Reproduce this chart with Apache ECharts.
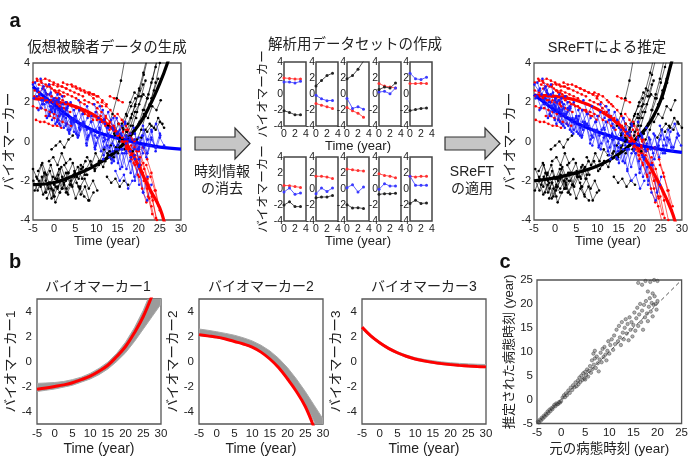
<!DOCTYPE html>
<html>
<head>
<meta charset="utf-8">
<script src="https://cdn.jsdelivr.net/npm/echarts@6/dist/echarts.min.js"></script>
<style>
html, body { margin: 0; padding: 0; background: #fff; }
#c { width: 691px; height: 457px; }
</style>
</head>
<body>
<div id="c"></div>
<script>
const FONT = '"Liberation Sans", "Noto Sans CJK JP", sans-serif'
const TXT = '#222'

// ---- panel a: simulated subjects [start year, values at 1-year steps]
const simBlack = [
  [-5, [-1.4, -1.9, -1.2, -2.0, -1.5, -2.2, -1.7, -2.4]],
  [-4.6, [-2.5, -2.0, -2.7, -2.2, -2.9, -2.3, -2.6]],
  [-4.2, [-1.8, -2.3, -1.6, -2.1, -2.5, -1.9, -2.4, -2.0]],
  [-3.3, [-2.2, -1.6, -2.4, -1.8, -2.0, -1.3, -1.9]],
  [-2.1, [-2.6, -2.1, -2.8, -2.3, -1.8, -2.4, -2.0, -1.6]],
  [-1.2, [-1.0, -0.8, -1.2, -0.6, -1.1, -0.9]],
  [0.3, [-1.9, -1.4, -2.1, -1.6, -2.3, -1.8, -1.2, -1.7]],
  [-0.6, [-0.4, -0.2, 0.0, -0.3, 0.1, 0.3]],
  [1.8, [-2.0, -1.6, -2.2, -1.5, -1.9, -1.3, -1.7]],
  [3.1, [-2.6, -2.2, -2.9, -2.4, -2.8, -3.0]],
  [4.6, [-1.7, -1.3, -1.9, -1.4, -1.0, -1.5, -1.2]],
  [6.2, [-2.3, -1.9, -2.4, -2.0, -2.5]],
  [7.8, [-0.8, -1.2, -0.6, -1.0, -0.4, -0.7]],
  [9.6, [-1.4, -1.0, -1.3, -0.6, -0.9, -0.3, 0.2]],
  [12.5, [-1.8, -2.1, -1.9, -2.3, -2.0, -2.2]],
  [12.1, [-1.0, -0.5, -0.8, -0.2, 0.1, 0.5]],
  [12.8, [0.8, 1.4, 2.2, 3.1, 4.3]],
  [13.4, [-0.2, 0.3, 0.0, 0.6, 0.9, 1.4, 1.2]],
  [14.2, [0.4, 0.9, 0.7, 1.3, 1.8, 2.2]],
  [15.1, [-0.6, -0.2, 0.3, 0.8, 1.5, 1.9, 2.4, 2.2]],
  [16.0, [0.9, 1.4, 2.0, 2.5, 2.3, 2.9]],
  [17.2, [0.5, 1.2, 1.9, 2.6, 3.4, 4.3]],
  [18.1, [1.2, 1.8, 2.7, 3.5, 4.4]],
  [19.0, [0.4, 0.9, 1.6, 2.2, 3.0, 3.8, 4.6]],
  [20.2, [1.0, 1.4, 1.2, 1.8, 1.6, 2.1]],
  [20.6, [0.2, 0.6, 0.9, 0.7, 1.2, 0.9]],
  [21.3, [1.6, 2.4, 3.2, 4.2, 5.0]],
  [22.0, [0.5, 0.8, 0.6, 1.0, 0.7]],
  [-4.9, [-2.0, -2.5, -1.8, -2.6, -2.1, -2.8]],
  [-3.8, [-1.5, -1.1, -1.7, -1.2, -1.9, -1.4]],
  [-1.7, [-2.9, -2.4, -3.1, -2.6, -2.2, -2.7]],
  [0.8, [-2.4, -2.0, -2.6, -2.2, -1.8, -2.3]],
  [2.4, [-1.2, -1.6, -1.1, -1.8, -1.4, -1.0]],
  [5.3, [-2.1, -2.7, -2.3, -3.0, -2.6]],
  [16.6, [-0.4, 0.2, 0.8, 1.5, 2.3, 3.1]],
  [18.6, [-0.5, 0.1, 0.6, 1.3, 1.9, 2.6, 3.2]],
  [23.0, [2.2, 3.0, 4.0, 5.0]]
]
const simRed = [
  [-5, [3.0, 3.1, 3.0, 2.9, 2.8, 2.6, 2.5, 2.3]],
  [-4.6, [2.6, 2.5, 2.7, 2.4, 2.3, 2.2, 2.0]],
  [-4.1, [3.2, 3.1, 3.2, 3.1, 3.0, 2.9, 2.8, 2.7]],
  [-5, [1.8, 1.7, 1.7, 1.6, 1.5, 1.4, 1.3]],
  [-4.3, [1.1, 1.0, 1.0, 0.9, 0.8, 0.8, 0.7]],
  [-3.2, [2.2, 2.1, 2.0, 2.0, 1.9, 1.7, 1.6, 1.5]],
  [-1.2, [2.9, 2.9, 2.8, 2.8, 2.7, 2.6, 2.5, 2.4, 2.3]],
  [0.2, [2.6, 2.6, 2.5, 2.4, 2.3, 2.2, 2.0, 1.9]],
  [2.1, [3.0, 2.9, 2.9, 2.8, 2.7, 2.6, 2.5, 2.4, 2.3]],
  [4.3, [2.8, 2.7, 2.6, 2.5, 2.4, 2.2, 2.0, 1.8]],
  [8.4, [2.5, 2.4, 2.3, 2.1, 1.9]],
  [13.2, [2.3, 2.2, 2.1, 2.0]],
  [6.1, [1.6, 1.5, 1.4, 1.3, 1.1, 1.0, 0.8, 0.6]],
  [10.0, [1.5, 1.3, 1.1, 0.9, 0.6, 0.3, 0.0, -0.3]],
  [12.2, [1.2, 1.0, 0.7, 0.4, 0.0, -0.4, -0.9]],
  [14.1, [0.8, 0.5, 0.2, -0.2, -0.7, -1.2, -1.8]],
  [15.8, [0.3, 0.0, -0.5, -1.1, -1.7, -2.4, -3.1]],
  [17.0, [0.6, 0.2, -0.3, -0.9, -1.6, -2.4, -3.3, -4.2]],
  [18.2, [-0.2, -0.7, -1.3, -2.0, -2.8, -3.7]],
  [19.1, [0.1, -0.4, -1.1, -1.9, -2.8, -3.9]],
  [20.3, [-0.8, -1.4, -2.2, -3.0, -4.0]],
  [15.0, [1.4, 1.1, 0.8, 0.4, 0.0, -0.5]],
  [21.0, [-0.3, -0.9, -1.6, -2.5, -3.5]],
  [21.8, [-1.2, -1.8, -2.5, -3.3]],
  [-4.7, [2.3, 2.3, 2.2, 2.1, 2.1, 2.0, 1.8, 1.7]],
  [-3.6, [2.9, 2.8, 2.8, 2.7, 2.5, 2.4, 2.3]],
  [-2.0, [1.3, 1.3, 1.2, 1.1, 1.0, 0.9, 0.8]],
  [1.0, [2.2, 2.1, 2.0, 1.9, 1.8, 1.6, 1.5, 1.3]],
  [3.2, [1.9, 1.8, 1.7, 1.6, 1.4, 1.3, 1.1]],
  [7.2, [2.1, 2.0, 1.9, 1.7, 1.5, 1.3, 1.0, 0.7]],
  [11.3, [2.0, 1.8, 1.6, 1.3, 0.9, 0.5, 0.0]],
  [16.5, [1.0, 0.6, 0.1, -0.5, -1.2, -2.0, -2.9]]
]
const simBlue = [
  [-5, [2.9, 2.6, 2.1, 2.5, 1.8, 2.2, 1.6, 1.9]],
  [-4.5, [3.0, 2.4, 2.8, 2.0, 1.5, 2.1, 1.4]],
  [-4.1, [2.3, 1.7, 2.2, 1.4, 1.9, 1.1, 1.6, 0.9]],
  [-3.2, [3.2, 2.6, 2.9, 2.1, 2.4, 1.7, 2.0]],
  [-2.3, [1.9, 1.3, 1.7, 1.0, 1.4, 0.8, 1.2, 0.5]],
  [-1.1, [2.4, 1.8, 2.1, 1.4, 1.7, 1.0, 1.3, 0.7, 1.0]],
  [0.2, [1.5, 0.9, 1.3, 0.6, 1.1, 0.4, 0.8]],
  [1.1, [2.0, 1.4, 1.7, 0.9, 1.3, 0.6, 0.9, 0.3]],
  [2.8, [1.2, 0.6, 1.0, 0.3, 0.8, 0.1, 0.5, -0.2]],
  [4.7, [1.6, 1.0, 1.4, 0.6, 1.0, 0.3, 0.7, 0.0, 0.4]],
  [6.9, [0.8, 0.2, 0.6, -0.1, 0.4, -0.3, 0.2, -0.5]],
  [8.8, [1.3, 0.6, 1.0, 0.2, 0.7, -0.1, 0.4, -0.4]],
  [10.1, [0.2, -0.5, 0.1, -0.8, -0.2, -1.1, -0.4]],
  [12.0, [0.9, 0.2, 0.6, -0.2, 0.3, -0.5, 0.1, -0.7]],
  [13.1, [-0.3, -1.0, -0.4, -1.3, -0.6, -1.6, -0.9, -2.2]],
  [14.0, [1.2, 0.4, 0.8, -0.1, 0.4, -0.4, 0.2, -0.6]],
  [15.2, [0.5, -0.4, 0.2, -0.8, -0.1, -1.2, -0.3, 0.1]],
  [16.1, [-0.6, -1.4, -0.8, -2.0, -1.2, -2.6, -1.8]],
  [17.0, [0.3, -0.5, 0.1, -0.9, -0.2, -0.6, 0.2, -0.3]],
  [18.0, [-1.0, -1.8, -1.3, -2.6, -3.0, -2.2]],
  [19.1, [0.4, -0.3, 0.6, -0.2, 0.5, 0.9, 0.3]],
  [20.0, [-0.4, 0.3, -0.6, 0.1, -0.3, 0.4]],
  [10.8, [1.8, 1.1, 1.5, 0.7, 1.2, 0.4, 0.9]],
  [14.5, [-1.5, -2.0, -1.7, -2.4, -2.0]],
  [-4.8, [2.2, 2.7, 1.9, 2.4, 1.6, 2.0, 1.3]],
  [-3.7, [1.6, 2.1, 1.2, 1.8, 0.9, 1.5, 0.7]],
  [-2.8, [2.7, 2.0, 2.5, 1.6, 2.2, 1.3, 1.8]],
  [-0.5, [1.1, 1.7, 0.8, 1.5, 0.5, 1.2, 0.3, 0.9]],
  [1.9, [2.3, 1.6, 2.0, 1.1, 1.6, 0.8, 1.2]],
  [3.6, [0.4, 1.0, 0.2, 0.9, -0.1, 0.6, -0.3]],
  [5.8, [2.1, 1.4, 1.8, 1.0, 1.5, 0.6, 1.1, 0.3]],
  [7.7, [-0.2, 0.5, -0.4, 0.3, -0.7, 0.1, -0.9]],
  [9.5, [1.9, 1.2, 1.6, 0.7, 1.1, 0.2, 0.6]],
  [11.6, [-0.9, -0.2, -1.1, -0.4, -1.4, -0.6]],
  [16.8, [1.0, 0.2, 0.7, -0.4, 0.3, -0.8, -0.2]],
  [21.0, [0.8, 0.1, 0.6, -0.5, 0.2, -0.2]]
]
// SReFT-estimated time offsets per subject (years)
const shiftBlack = [0.3, -0.2, 0.4, 0, -0.3, 0.5, 0.2, -0.4, 0.3, -0.1, 0.6, 0.2, -0.3, 1.0, 1.4, 0.8, 1.8, 1.2, 1.5, 1.6, 1.9, 1.7, 1.4, 2.0, 3.2, 3.6, 1.5, 4.0,
  0.2, -0.1, 0.3, 0.4, 0.5, 0.6, 1.7, 1.8, 2.5]
const shiftRed = [0.2, -0.2, 0.1, 0.4, -0.3, 0.3, 0.5, 0.2, -0.1, 0.6, 0.9, 1.5, 1.2, 1.6, 1.8, 1.7, 1.9, 1.4, 2.2, 1.8, 2.5, 1.6, 2.6, 3.0,
  0.1, 0.3, -0.2, 0.4, 0.6, 1.0, 1.4, 2.0]
const shiftBlue = [0.1, 0.3, -0.2, 0.2, 0.4, 0.1, 0.3, 0.5, 0.6, 0.8, 1.0, 1.2, 1.4, 1.6, 1.9, 2.2, 2.5, 3.0, 3.5, 1.8, 4.2, 4.0, 1.3, 2.6,
  0.2, 0.0, 0.3, 0.4, 0.5, 0.7, 0.9, 1.1, 1.2, 1.5, 2.8, 3.8]

// thick curves [time, value]
const simCurveBlack = [[-5, -2.2], [0, -2.09], [5, -1.7], [10, -1.19], [15, -0.42], [20, 0.85], [22.5, 1.78], [25, 2.97], [26.8, 4.0], [28, 4.9]]
const simCurveRed = [[-5, 2.2], [0, 2.04], [5, 1.78], [10, 1.27], [15, 0.42], [17.5, -0.25], [20, -1.27], [22.5, -2.38], [25, -3.4], [26.5, -4.5]]
const simCurveBlue = [[-5, 2.8], [-2.5, 2.3], [0, 1.9], [2.5, 1.45], [5, 1.05], [10, 0.5], [15, 0.17], [20, -0.08], [25, -0.29], [30, -0.39]]
const estCurveBlack = [[-5, -2.0], [0, -1.85], [5, -1.6], [10, -1.25], [15, -0.65], [20, 0.3], [22.5, 1.0], [25, 2.1], [27.5, 4.0], [29, 5.2]]
const estCurveRed = [[-5, 2.35], [0, 2.3], [5, 2.1], [10, 1.65], [15, 0.9], [18, 0.15], [20, -0.45], [22.5, -1.3], [25, -2.3], [27.5, -3.5], [28.7, -4.3]]
const estCurveBlue = [[-5, 2.4], [0, 1.6], [5, 0.95], [10, 0.5], [15, 0.15], [20, -0.2], [25, -0.4], [30, -0.55]]

// ---- analysis data set: 10 subjects, 4 visits each
const setTime = [0, 1, 2, 3]
const setRed = [
  [2.0, 1.95, 1.87, 1.87], [-1.2, -1.4, -1.6, -1.8], [-1.7, -2.1, -2.4, -2.9], [1.3, 1.0, 0.87, 0.75], [1.3, 1.3, 1.35, 1.3],
  [0.45, 0.42, 0.3, 0.2], [1.6, 1.58, 1.5, 1.3], [2.5, 2.4, 2.3, 2.25], [1.9, 1.7, 1.6, 1.4], [1.6, 1.5, 1.58, 1.58]
]
const setBlue = [
  [1.5, 1.5, 1.37, 1.58], [-0.17, -0.6, -0.83, -0.8], [-0.55, -1.8, -1.6, -1.9], [0.25, 0.33, 0.04, 0.75], [2.6, 1.9, 1.8, 2.1],
  [-0.37, 0.12, -0.67, -0.5], [-0.58, 0.12, -0.3, 0.12], [0.17, 0.54, -0.37, 0.25], [-0.04, 0.67, 0.37, 0.37], [1.6, 0.46, 0.46, 0.46]
]
const setBlack = [
  [-2.1, -2.3, -2.6, -2.6], [1.0, 1.7, 2.3, 2.6], [1.9, 2.3, 3.1, 4.1], [0.55, 0.87, 0.75, 1.37], [-2.07, -1.95, -1.8, -1.75],
  [-2.0, -1.6, -2.2, -2.2], [-1.1, -1.0, -1.0, -0.8], [-1.96, -2.37, -2.33, -2.45], [-0.67, -0.58, -0.58, -0.54], [-1.8, -1.4, -1.8, -1.75]
]

// ---- panel b: true curve (red) and estimated band (gray)
const bTime = [-5, -2.5, 0, 2.5, 5, 7.5, 10, 12.5, 15, 17.5, 20, 22.5, 25, 27.5, 30]
const bm1True = [-2.22, -2.12, -2.0, -1.87, -1.7, -1.45, -1.17, -0.78, -0.3, 0.4, 1.2, 2.3, 3.6, 5.3, 7.3]
const bm1Low = [-2.4, -2.3, -2.2, -2.05, -1.9, -1.65, -1.4, -1.05, -0.6, 0.0, 0.7, 1.6, 2.6, 3.6, 4.6]
const bm1High = [-1.75, -1.72, -1.68, -1.6, -1.45, -1.25, -0.95, -0.55, -0.05, 0.65, 1.55, 2.7, 4.1, 5.8, 7.8]
const bm2True = [2.15, 2.05, 1.95, 1.8, 1.6, 1.4, 1.15, 0.75, 0.2, -0.5, -1.4, -2.4, -3.6, -5.3, -7.3]
const bm2Low = [2.05, 1.98, 1.88, 1.74, 1.55, 1.35, 1.1, 0.72, 0.2, -0.45, -1.3, -2.25, -3.4, -4.8, -6.2]
const bm2High = [2.6, 2.5, 2.38, 2.25, 2.1, 1.9, 1.65, 1.3, 0.85, 0.25, -0.5, -1.4, -2.4, -3.5, -4.6]
const bm3True = [2.75, 2.05, 1.5, 1.05, 0.7, 0.42, 0.2, 0.05, -0.07, -0.17, -0.25, -0.31, -0.36, -0.4, -0.43]
const bm3Low = [2.6, 1.92, 1.4, 0.95, 0.6, 0.33, 0.12, -0.03, -0.15, -0.25, -0.32, -0.38, -0.43, -0.47, -0.5]
const bm3High = [2.82, 2.12, 1.58, 1.13, 0.79, 0.52, 0.31, 0.17, 0.06, -0.03, -0.1, -0.15, -0.19, -0.22, -0.24]
const bTicks = [-4, -2, 0, 2, 4]

// ---- panel c: original vs estimated disease time
const cPoints = [
  [-5, -5.1], [-4.8, -4.6], [-4.6, -4.8], [-4.4, -4.2], [-4.2, -4.4], [-4, -3.8], [-3.8, -4.0], [-3.6, -3.4], [-3.4, -3.6],
  [-3.2, -3.0], [-3, -3.2], [-2.8, -2.5], [-2.6, -2.8], [-2.4, -2.1], [-2.2, -2.4], [-2, -1.8], [-1.8, -2.0], [-1.6, -1.5],
  [-1.4, -1.1], [-1.2, -1.4], [-1, -0.8], [-0.8, -1.0], [-0.6, -0.9], [-0.4, -0.5], [-0.2, -0.6], [0, -0.3], [0.3, 0.4],
  [0.6, 0.9], [0.8, 0.5], [1, 1.3], [1.2, 0.9],
  [1.5, 1.9], [1.8, 1.4], [2, 2.5], [2.3, 2.0], [2.5, 3.0], [2.8, 2.6], [3, 3.6], [3.2, 2.8], [3.5, 4.0], [3.6, 3.2],
  [3.8, 4.6], [4, 3.7], [4.2, 5.0], [4.4, 4.1], [4.6, 5.5], [4.8, 4.4], [5, 5.8], [5, 4.2], [5.2, 5.1], [5.4, 6.3],
  [5.6, 4.8], [5.8, 6.0], [6, 7.0], [6.2, 5.6], [6.4, 8.2], [6.5, 6.4], [6.7, 9.6], [6.8, 7.3], [7, 10.2], [7, 8.6],
  [7.2, 6.6], [7.4, 9.0], [7.6, 7.6], [7.8, 5.9], [8, 8.4], [8.2, 9.8], [8.4, 7.8], [8.6, 10.6], [8.8, 8.9], [9, 11.0],
  [9.2, 9.4], [9.4, 8.2], [9.6, 10.2], [9.8, 12.2], [10, 9.6], [10.2, 11.4],
  [10.5, 12.6], [10.8, 10.4], [11, 13.4], [11.2, 11.6], [11.5, 14.6], [11.8, 12.2], [12, 15.4], [12.2, 13.0], [12.4, 11.4],
  [12.6, 16.2], [12.8, 14.0], [13, 12.6], [13.2, 15.0], [13.4, 16.8], [13.6, 13.8], [13.8, 15.8], [14, 12.4], [14.2, 17.2],
  [14.4, 14.6], [14.6, 16.2], [14.8, 13.2], [15, 15.6], [15.2, 18.2], [15.4, 14.4], [15.6, 17.0], [15.8, 19.2], [16, 15.4],
  [16.2, 17.8], [16.4, 20.0], [16.6, 16.2], [16.8, 18.6], [17, 14.6], [17.2, 19.8], [17.4, 17.2], [17.6, 20.6], [17.8, 18.0],
  [18, 16.4], [18.2, 19.4], [18.4, 21.2], [18.6, 18.4], [18.8, 20.2], [19, 17.4], [19.2, 19.8], [19.4, 21.6], [19.6, 20.0],
  [19.8, 18.8], [20, 20.6], [16, 24.4], [16.8, 24.0], [17.5, 24.8], [18.5, 24.6], [19.3, 25.0], [20, 24.8], [19, 22.2], [18, 22.6]
]
const cDiag = [[-5, -5], [25, 25]]

const grids = []
const xAxes = []
const yAxes = []
const series = []

function addGrid (g, xa, ya) {
  const i = grids.length
  grids.push(Object.assign({ show: true, borderColor: '#555', borderWidth: 1.3, backgroundColor: 'transparent' }, g))
  xAxes.push(axis(xa, i))
  yAxes.push(axis(ya, i))
  return i
}

function axis (o, i) {
  const a = {
    type: 'value',
    gridIndex: i,
    axisLine: { show: false },
    axisTick: { show: false },
    splitLine: { show: false },
    nameLocation: 'middle',
    nameTextStyle: { color: TXT, fontSize: 13, fontFamily: FONT }
  }
  Object.assign(a, o)
  a.axisLabel = Object.assign({ color: TXT, fontSize: 11, margin: 3, fontFamily: FONT }, o.axisLabel || {})
  return a
}

function line (gi, data, color, width, sym) {
  series.push({
    type: 'line',
    xAxisIndex: gi,
    yAxisIndex: gi,
    silent: true,
    data,
    symbol: sym ? 'circle' : 'none',
    symbolSize: sym || 0,
    lineStyle: { color, width },
    itemStyle: { color }
  })
}

function subjects (gi, list, shifts, color) {
  list.forEach((s, k) => {
    const dx = shifts ? shifts[k] : 0
    line(gi, s[1].map((v, i) => [s[0] + dx + i, v]), color, 0.6, 2.6)
  })
}

function curve (gi, data, color) {
  series.push({ type: 'line', xAxisIndex: gi, yAxisIndex: gi, silent: true, data, smooth: 0.4, symbol: 'none', lineStyle: { color, width: 3.2 } })
}

// panel a, left and right
const bigX = { min: -5, max: 30, interval: 5, name: 'Time (year)', nameGap: 12 }
const bigY = { min: -4, max: 4, interval: 2, name: 'バイオマーカー', nameGap: 13, nameTextStyle: { color: TXT, fontSize: 14, fontFamily: FONT } }
const gA1 = addGrid({ left: 33, top: 63, width: 148, height: 157 }, bigX, bigY)
subjects(gA1, simBlack, null, '#000')
subjects(gA1, simRed, null, '#ff0000')
subjects(gA1, simBlue, null, '#1a1aff')
curve(gA1, simCurveBlack, '#000')
curve(gA1, simCurveRed, '#ff0000')
curve(gA1, simCurveBlue, '#0000ff')

const gA2 = addGrid({ left: 534, top: 63, width: 149, height: 157 }, bigX, bigY)
subjects(gA2, simBlack, shiftBlack, '#000')
subjects(gA2, simRed, shiftRed, '#ff0000')
subjects(gA2, simBlue, shiftBlue, '#1a1aff')
curve(gA2, estCurveBlack, '#000')
curve(gA2, estCurveRed, '#ff0000')
curve(gA2, estCurveBlue, '#0000ff')

// analysis data set, 2 rows x 5 columns
const colLeft = [284, 316, 347, 379, 410]
const rowTop = [62, 157]
for (let k = 0; k < 10; k++) {
  const r = Math.floor(k / 5)
  const c = k % 5
  const xa = { min: 0, max: 4, interval: 2, axisLabel: { fontSize: 10.5, margin: 3 } }
  const ya = { min: -4, max: 4, interval: 2, axisLabel: { fontSize: 10.5, margin: 1 } }
  if (c === 2) Object.assign(xa, { name: 'Time (year)', nameGap: 13 })
  if (c === 0) Object.assign(ya, { name: 'バイオマーカー', nameGap: 12, nameTextStyle: { color: TXT, fontSize: 12.5, fontFamily: FONT } })
  const gi = addGrid({ left: colLeft[c], top: rowTop[r], width: 22, height: 64, borderColor: '#444', borderWidth: 1.5 }, xa, ya)
  line(gi, setTime.map((t, i) => [t, setRed[k][i]]), '#ff3030', 0.8, 3)
  line(gi, setTime.map((t, i) => [t, setBlue[k][i]]), '#3a3aff', 0.8, 3)
  line(gi, setTime.map((t, i) => [t, setBlack[k][i]]), '#222', 0.8, 3)
}

// panel b
function band (gi, low, high) {
  series.push({
    type: 'custom',
    xAxisIndex: gi,
    yAxisIndex: gi,
    silent: true,
    clip: true,
    data: [0],
    renderItem: function (params, api) {
      const pts = []
      bTime.forEach((t, i) => pts.push(api.coord([t, high[i]])))
      for (let i = bTime.length - 1; i >= 0; i--) pts.push(api.coord([bTime[i], low[i]]))
      return { type: 'polygon', shape: { points: pts }, style: { fill: '#9b9b9b', stroke: '#a8a8a8', lineWidth: 1 } }
    }
  })
}
const bPanels = [
  { left: 37, name: 'バイオマーカー1', low: bm1Low, high: bm1High, val: bm1True },
  { left: 199, name: 'バイオマーカー2', low: bm2Low, high: bm2High, val: bm2True },
  { left: 362, name: 'バイオマーカー3', low: bm3Low, high: bm3High, val: bm3True }
]
bPanels.forEach(p => {
  const gi = addGrid({ left: p.left, top: 299, width: 124, height: 126 },
    { min: -5, max: 30, interval: 5, name: 'Time (year)', nameGap: 18, axisLabel: { fontSize: 11.5, margin: 4 },
      nameTextStyle: { color: TXT, fontSize: 14, fontFamily: FONT } },
    { min: -5, max: 5, name: p.name, nameGap: 15, axisLabel: { customValues: bTicks, fontSize: 11.5, margin: 5 },
      nameTextStyle: { color: TXT, fontSize: 13.5, fontFamily: FONT } })
  band(gi, p.low, p.high)
  series.push({
    type: 'line', xAxisIndex: gi, yAxisIndex: gi, silent: true, smooth: 0.4, symbol: 'none',
    data: bTime.map((t, i) => [t, p.val[i]]), lineStyle: { color: '#ff0000', width: 3 }
  })
})

// panel c
const gC = addGrid({ left: 537, top: 280, width: 147, height: 146 },
  { min: -5, max: 25, interval: 5, name: '元の病態時刻 (year)', nameGap: 19, axisLabel: { fontSize: 11.5, margin: 4 },
    nameTextStyle: { color: TXT, fontSize: 13.5, fontFamily: FONT } },
  { min: -5, max: 25, interval: 5, name: '推定された病態時刻 (year)', nameGap: 17, axisLabel: { fontSize: 11.5, margin: 4 },
    nameTextStyle: { color: TXT, fontSize: 13, fontFamily: FONT } })
series.push({
  type: 'line', xAxisIndex: gC, yAxisIndex: gC, silent: true, symbol: 'none', data: cDiag,
  lineStyle: { color: '#555', width: 1, type: [4, 3] }
})
series.push({
  type: 'scatter', xAxisIndex: gC, yAxisIndex: gC, silent: true, data: cPoints, symbolSize: 3.4,
  itemStyle: { color: 'rgba(70,70,70,0.55)', borderColor: 'rgba(40,40,40,0.8)', borderWidth: 0.6 }
})

function txt (x, y, text, size, extra) {
  return {
    type: 'text', x, y, silent: true,
    style: Object.assign({ text, fill: TXT, fontSize: size, fontFamily: FONT, align: 'center', verticalAlign: 'middle' }, extra || {})
  }
}
function arrow (x0) {
  return {
    type: 'polygon', silent: true,
    shape: { points: [[x0, 137], [x0 + 40, 137], [x0 + 40, 128], [x0 + 55, 143.5], [x0 + 40, 159], [x0 + 40, 150], [x0, 150]] },
    style: { fill: '#c6c6c6', stroke: '#333', lineWidth: 1.2 }
  }
}

const graphic = [
  txt(15, 21, 'a', 20, { fontWeight: 'bold', fill: '#111' }),
  txt(15, 262, 'b', 20, { fontWeight: 'bold', fill: '#111' }),
  txt(505, 262, 'c', 20, { fontWeight: 'bold', fill: '#111' }),
  txt(107, 48, '仮想被験者データの生成', 14.5),
  txt(355, 45, '解析用データセットの作成', 14.5),
  txt(607, 48, 'SReFTによる推定', 14.5),
  arrow(195),
  arrow(445),
  txt(222, 172, '時刻情報', 14),
  txt(222, 189, 'の消去', 14),
  txt(472, 172, 'SReFT', 14),
  txt(472, 189, 'の適用', 14),
  txt(98, 287, 'バイオマーカー1', 14),
  txt(261, 287, 'バイオマーカー2', 14),
  txt(424, 287, 'バイオマーカー3', 14)
]

const chart = echarts.init(document.getElementById('c'), null, { renderer: 'canvas' })
chart.setOption({
  animation: false,
  textStyle: { fontFamily: FONT },
  grid: grids,
  xAxis: xAxes,
  yAxis: yAxes,
  series,
  graphic
})
</script>
</body>
</html>
